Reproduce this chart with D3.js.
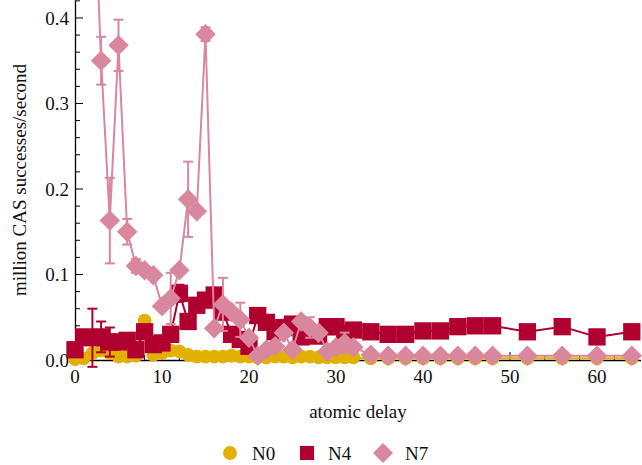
<!DOCTYPE html>
<html><head><meta charset="utf-8">
<script src="https://cdn.jsdelivr.net/npm/d3@7/dist/d3.min.js"></script>
<style>html,body{margin:0;padding:0;background:#fff;} svg text{font-family:"Liberation Serif","Times New Roman","DejaVu Serif",serif !important;}</style>
</head><body><svg id="c" width="642" height="465" font-family="Liberation Serif, serif"></svg>
<script>
// ---- data ----
const seriesNames = ["N0", "N4", "N7"];
const colors = ["#E2B000", "#B0002F", "#D9869F"];
const n0X = [0,1,2,3,4,5,6,7,8,9,10,11,12,13,14,15,16,17,18,19,20,21,22,23,24,25,26,27,28,29,30,31,32,34,36,38,40,42,44,46,48,52,56,60,64];
const n0Y = [0.001,0.002,0.008,0.011,0.008,0.004,0.004,0.005,0.046,0.006,0.008,0.011,0.010,0.006,0.004,0.004,0.004,0.004,0.005,0.004,0.004,0.003,0.003,0.004,0.004,0.003,0.004,0.004,0.003,0.003,0.003,0.003,0.003,0.002,0.002,0.002,0.002,0.002,0.002,0.002,0.002,0.002,0.002,0.002,0.002];
const n4X = [0,1,2,3,4,5,6,7,8,9,10,11,12,13,14,15,16,17,18,19,20,21,22,23,24,25,26,27,28,29,30,31,32,34,36,38,40,42,44,46,48,52,56,60,64];
const n4Y = [0.012,0.027,0.026,0.027,0.021,0.021,0.023,0.012,0.033,0.018,0.020,0.030,0.078,0.045,0.064,0.070,0.076,0.056,0.030,0.024,0.016,0.052,0.044,0.033,0.038,0.042,0.027,0.030,0.028,0.039,0.039,0.031,0.035,0.033,0.030,0.030,0.034,0.034,0.039,0.040,0.040,0.033,0.039,0.027,0.033];
const n4Err = [0,0,0.034,0.018,0.017,0,0,0,0,0,0,0,0.010,0,0,0,0,0,0,0,0,0,0.008,0,0,0,0,0.006,0,0,0,0,0,0,0.006,0.006,0,0,0.008,0.008,0,0,0.008,0,0];
const n7X = [2,3,4,5,6,7,8,9,10,11,12,13,14,15,16,17,18,19,20,21,22,23,24,25,26,27,28,29,30,31,32,34,36,38,40,42,44,46,48,52,56,60,64];
const n7Y = [0.60,0.350,0.163,0.368,0.150,0.110,0.105,0.099,0.063,0.072,0.105,0.188,0.174,0.381,0.037,0.065,0.056,0.047,0.026,0.005,0.012,0.016,0.032,0.012,0.045,0.038,0.032,0.010,0.015,0.020,0.015,0.006,0.005,0.005,0.005,0.005,0.005,0.005,0.005,0.005,0.005,0.005,0.005];
const n7Err = [0,0.028,0.05,0.03,0.015,0.008,0,0,0.005,0.03,0,0.044,0,0.008,0,0.031,0,0.02,0,0,0,0,0,0,0,0.012,0,0,0,0.012,0,0,0,0,0,0,0,0,0,0,0,0,0];
const xTicks = [0,10,20,30,40,50,60];
const yTicks = [0.0,0.1,0.2,0.3,0.4];
const xLabel = "atomic delay";
const yLabel = "million CAS successes/second";

// ---- layout ----
const FONT = "Liberation Serif, Times New Roman, serif";
const svg = d3.select("#c");
const x = d3.scaleLinear().domain([0, 65]).range([75, 640.5]);
const y = d3.scaleLinear().domain([0, 0.421]).range([360, 0]);

// axes
const gx = svg.append("g").attr("transform", "translate(0,360)");
gx.call(d3.axisBottom(x).tickValues(d3.range(0, 66, 2)).tickSize(0).tickFormat(""));
gx.attr("font-family", FONT);
gx.select(".domain").attr("stroke", "#000").attr("stroke-width", 1.3);
gx.selectAll(".tick").remove();
d3.range(0, 66, 2).forEach(v => {
  const major = v % 10 === 0;
  gx.append("line").attr("x1", x(v)).attr("x2", x(v)).attr("y1", 0).attr("y2", major ? -8 : -5)
    .attr("stroke", "#000").attr("stroke-width", 1);
});
xTicks.forEach(v => {
  gx.append("text").attr("x", x(v)).attr("y", 23).attr("text-anchor", "middle")
    .attr("font-family", FONT).attr("font-size", 19).attr("fill", "#111").text(v);
});

const gy = svg.append("g").attr("transform", "translate(75,0)");
gy.call(d3.axisLeft(y).tickValues([]).tickSize(0));
gy.attr("font-family", FONT);
gy.select(".domain").attr("stroke", "#000").attr("stroke-width", 1.3);
d3.range(0, 0.4201, 0.02).forEach((v, i) => {
  const major = i % 5 === 0;
  gy.append("line").attr("x1", 0).attr("x2", major ? 8 : 5).attr("y1", y(v)).attr("y2", y(v))
    .attr("stroke", "#000").attr("stroke-width", 1);
});
yTicks.forEach(v => {
  gy.append("text").attr("x", -6).attr("y", y(v)).attr("dy", "0.35em").attr("text-anchor", "end")
    .attr("font-family", FONT).attr("font-size", 19).attr("fill", "#111").text(d3.format(".1f")(v));
});

svg.append("text").attr("x", 358).attr("y", 418).attr("text-anchor", "middle")
  .attr("font-family", FONT).attr("font-size", 19).attr("fill", "#111").text(xLabel);
svg.append("text").attr("transform", "translate(26,180) rotate(-90)").attr("text-anchor", "middle")
  .attr("font-family", FONT).attr("font-size", 19).attr("fill", "#111").text(yLabel);

// series
const plot = svg.append("g");
const line = d3.line().x(d => x(d.x)).y(d => y(d.y));
function drawSeries(xs, ys, errs, color, shape) {
  const data = xs.map((v, i) => ({x: v, y: ys[i], e: errs ? errs[i] : 0}));
  const g = plot.append("g");
  g.append("path").datum(data).attr("d", line).attr("fill", "none").attr("stroke", color).attr("stroke-width", 2);
  data.filter(d => d.e > 0).forEach(d => {
    const cx = x(d.x);
    g.append("line").attr("x1", cx).attr("x2", cx).attr("y1", y(d.y - d.e)).attr("y2", y(d.y + d.e)).attr("stroke", color).attr("stroke-width", 2);
    [d.y - d.e, d.y + d.e].forEach(v => {
      g.append("line").attr("x1", cx - 5).attr("x2", cx + 5).attr("y1", y(v)).attr("y2", y(v)).attr("stroke", color).attr("stroke-width", 2);
    });
  });
  const sym = d3.symbol().type(shape === "circle" ? d3.symbolCircle : d3.symbolSquare)
    .size(shape === "circle" ? 150 : shape === "square" ? 300 : 210);
  g.selectAll("path.m").data(data).join("path").attr("class", "m")
    .attr("d", sym)
    .attr("transform", d => `translate(${x(d.x)},${y(d.y)})` + (shape === "diamond" ? " rotate(45)" : ""))
    .attr("fill", color);
}
drawSeries(n0X, n0Y, null, colors[0], "circle");
drawSeries(n4X, n4Y, n4Err, colors[1], "square");
drawSeries(n7X, n7Y, n7Err, colors[2], "diamond");

// legend
const legend = svg.append("g");
const legendPos = [{sx: 230, tx: 252}, {sx: 307, tx: 328}, {sx: 383, tx: 405}];
const shapes = [d3.symbolCircle, d3.symbolSquare, d3.symbolSquare];
const sizes = [150, 200, 200];
seriesNames.forEach((name, i) => {
  legend.append("path").attr("d", d3.symbol().type(shapes[i]).size(sizes[i]))
    .attr("transform", `translate(${legendPos[i].sx},453)` + (i === 2 ? " rotate(45)" : ""))
    .attr("fill", colors[i]);
  legend.append("text").attr("x", legendPos[i].tx).attr("y", 453).attr("dy", "0.35em")
    .attr("font-family", FONT).attr("font-size", 19).attr("fill", "#111").text(name);
});
</script></body></html>
